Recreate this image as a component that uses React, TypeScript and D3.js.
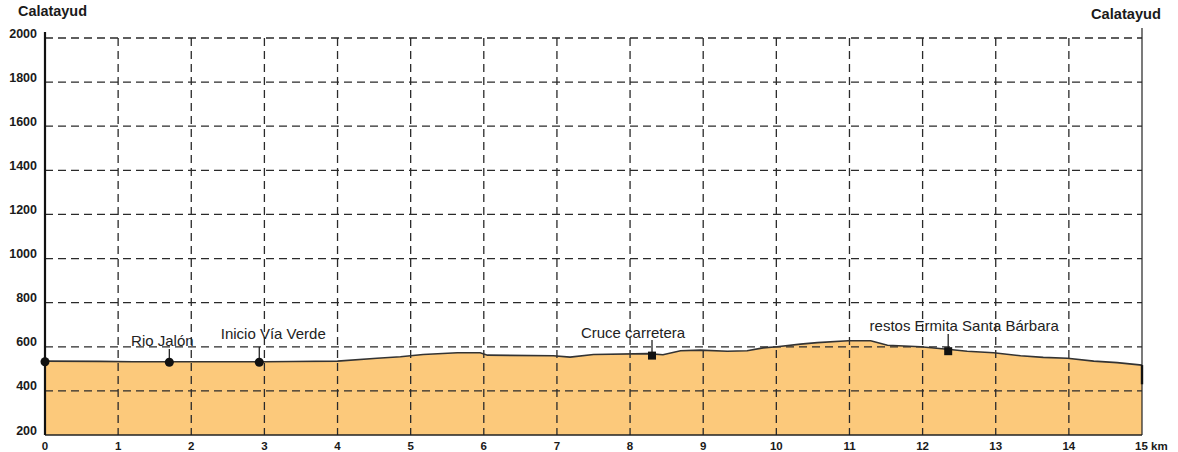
import * as d3 from "d3"

// Elevation profile Calatayud – Calatayud (km, m)
const distanceKm = [
  0, 0.75, 1.2, 2.0, 3.0, 3.39, 4.0, 4.54, 4.86, 5.17, 5.64, 5.95, 6.05, 6.95, 7.18, 7.5,
  8.24, 8.45, 8.69, 8.96, 9.33, 9.6, 9.82, 10.01, 10.33, 10.56, 10.98, 11.29, 11.52,
  11.97, 12.34, 12.61, 12.97, 13.34, 13.65, 13.98, 14.34, 14.66, 15,
]
const elevationM = [
  535, 534, 532, 532, 532, 533, 535, 548, 555, 565, 573, 573, 562, 559, 553, 565,
  569, 564, 582, 585, 580, 582, 595, 600, 612, 619, 627, 627, 607,
  600, 589, 580, 573, 559, 552, 548, 535, 528, 517,
]

// Waypoints
const waypointNames = ["", "Rio Jalón", "Inicio Vía Verde", "Cruce carretera", "restos Ermita Santa Bárbara"]
const waypointKm = [0, 1.7, 2.93, 8.3, 12.35]
const waypointElev = [532, 530, 530, 560, 580]
const waypointShape = ["circle", "circle", "circle", "square", "square"]

const xTicks = d3.range(0, 16)
const yTicks = d3.range(200, 2001, 200)

const W = 1178
const H = 452
const x0 = 45
const x1 = 1142
const yBottom = 435
const yTop = 38

// label layout (pixel offsets from marker / absolute baselines)
const labelDx = [0, -7, 14, -19, 16]
const labelBaseline = [0, 346, 339, 337.5, 330.5]
const leaderTop = [0, 349, 347, 340, 334]

const font = "'Liberation Sans', Arial, sans-serif"

export default function App() {
  const x = d3.scaleLinear().domain([0, 15]).range([x0, x1])
  const y = d3.scaleLinear().domain([200, 2000]).range([yBottom, yTop])

  const pts = distanceKm.map((d, i) => [d, elevationM[i]] as [number, number])

  const area = d3
    .area<[number, number]>()
    .x(d => x(d[0]))
    .y0(y(200))
    .y1(d => y(d[1]))
  const line = d3
    .line<[number, number]>()
    .x(d => x(d[0]))
    .y(d => y(d[1]))

  const dash = "8,5"

  return (
    <svg
      width={W}
      height={H}
      style={{ position: "absolute", left: 0, top: 0, background: "#fff" }}
      fontFamily={font}
    >
      <path d={area(pts) || ""} fill="#fcc97b" />

      {/* horizontal grid */}
      {yTicks
        .filter(t => t > 200)
        .map(t => (
          <line
            key={"h" + t}
            x1={x0}
            x2={x1}
            y1={y(t)}
            y2={y(t)}
            stroke="#2a2a2a"
            strokeWidth={1.3}
            strokeDasharray={dash}
          />
        ))}
      {/* vertical grid */}
      {xTicks
        .filter(t => t > 0 && t < 15)
        .map(t => (
          <line
            key={"v" + t}
            x1={x(t)}
            x2={x(t)}
            y1={yTop}
            y2={yBottom}
            stroke="#2a2a2a"
            strokeWidth={1.3}
            strokeDasharray={dash}
          />
        ))}

      <path d={line(pts) || ""} fill="none" stroke="#333" strokeWidth={1.6} />

      {/* axes */}
      <line x1={x0} x2={x1} y1={yBottom} y2={yBottom} stroke="#222" strokeWidth={1.5} />
      <line x1={x0} x2={x0} y1={32} y2={yBottom} stroke="#111" strokeWidth={2.2} />
      <line x1={x1} x2={x1} y1={28} y2={yBottom} stroke="#222" strokeWidth={1.2} />
      <line
        x1={x1}
        x2={x1}
        y1={y(elevationM[elevationM.length - 1])}
        y2={y(430)}
        stroke="#111"
        strokeWidth={2.4}
      />

      {/* y tick labels */}
      {yTicks.map(t => (
        <text
          key={"yl" + t}
          x={37}
          y={y(t) - 0.5}
          textAnchor="end"
          fontSize={12.5}
          fontWeight="bold"
          fill="#1a1a1a"
        >
          {t}
        </text>
      ))}
      {/* x tick labels */}
      {xTicks.map(t => (
        <text
          key={"xl" + t}
          x={t === 15 ? x(t) - 7 : x(t)}
          y={450}
          textAnchor={t === 15 ? "start" : "middle"}
          fontSize={11.5}
          fontWeight="bold"
          fill="#1a1a1a"
        >
          {t === 15 ? "15 km" : t}
        </text>
      ))}

      <text x={18} y={16} fontSize={14} fontWeight="bold" fill="#1a1a1a" textLength={69} lengthAdjust="spacingAndGlyphs">
        Calatayud
      </text>
      <text x={1091} y={19} fontSize={14} fontWeight="bold" fill="#1a1a1a" textLength={70} lengthAdjust="spacingAndGlyphs">
        Calatayud
      </text>

      {/* waypoints */}
      {waypointKm.map((k, i) => {
        const cx = x(k)
        const cy = y(waypointElev[i])
        return (
          <g key={"w" + i}>
            {waypointNames[i] && (
              <>
                <line x1={cx} x2={cx} y1={cy} y2={leaderTop[i]} stroke="#222" strokeWidth={1.3} />
                <text
                  x={cx + labelDx[i]}
                  y={labelBaseline[i]}
                  textAnchor="middle"
                  fontSize={15}
                  fill="#222"
                >
                  {waypointNames[i]}
                </text>
              </>
            )}
            {waypointShape[i] === "circle" ? (
              <circle cx={cx} cy={cy} r={4.5} fill="#111" />
            ) : (
              <rect x={cx - 4} y={cy - 4} width={8} height={8} fill="#111" />
            )}
          </g>
        )
      })}
    </svg>
  )
}
